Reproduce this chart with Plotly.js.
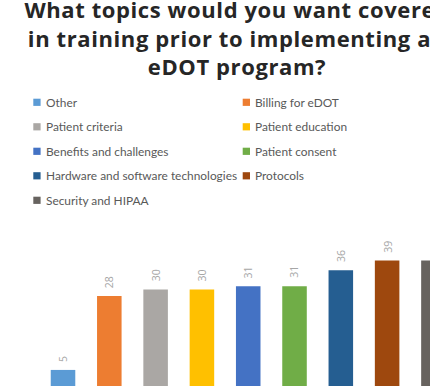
<!DOCTYPE html>
<html>
<head>
<meta charset="utf-8">
<script src="https://cdn.plot.ly/plotly-3.0.1.min.js"></script>
<style>html,body{margin:0;padding:0;background:#fff;}#chart{width:430px;height:386px;}
.gtitle{letter-spacing:0.6px;}</style>
</head>
<body>
<div id="chart"></div>
<script>
var categories = ["Other", "Billing for eDOT", "Patient criteria", "Patient education",
  "Benefits and challenges", "Patient consent", "Hardware and software technologies",
  "Protocols", "Security and HIPAA"];
var counts = [5, 28, 30, 30, 31, 31, 36, 39, 39];
var colors = ["#5b9bd5", "#ed7d31", "#aaa7a4", "#ffc000", "#4472c4", "#70ad47",
  "#255e91", "#9e480e", "#67635f"];
var titleText = "What topics would you want covered<br>in training prior to implementing an<br>eDOT program?";

var W = 430, H = 386;
var M = {l: 40, r: 0, t: 230, b: 0};
var pw = W - M.l - M.r, ph = H - M.t - M.b;
function px(x) { return (x - M.l) / pw; }
function py(y) { return (H - M.b - y) / ph; }

var traces = categories.map(function (c, i) {
  return {
    type: "bar", name: c, x: [i], y: [counts[i]],
    marker: {color: colors[i]}, showlegend: false, hoverinfo: "skip"
  };
});

var annotations = [];
var shapes = [];
counts.forEach(function (v, i) {
  annotations.push({
    x: i, y: v, xref: "x", yref: "y", text: String(v), showarrow: false,
    textangle: -90, xanchor: "center", yanchor: "bottom", yshift: 6,
    font: {family: "Open Sans, sans-serif", size: 10.5, color: "#a6a6a6"}
  });
});
categories.forEach(function (c, i) {
  var col = i % 2, row = Math.floor(i / 2);
  var sx = col === 0 ? 33.3 : 242.7;
  var cy = 102.3 + row * 24.5;
  shapes.push({
    type: "rect", xref: "paper", yref: "paper",
    x0: px(sx), x1: px(sx + 7.3), y0: py(cy - 3.6), y1: py(cy + 3.6),
    fillcolor: colors[i], line: {width: 0}
  });
  annotations.push({
    xref: "paper", yref: "paper", x: px(sx + 10.5), y: py(cy),
    xanchor: "left", yanchor: "middle", showarrow: false, text: c,
    font: {family: "Lato, sans-serif", size: 11.9, color: "#595959"}
  });
});

var layout = {
  width: W, height: H,
  margin: M,
  paper_bgcolor: "#ffffff", plot_bgcolor: "#ffffff",
  barmode: "overlay", bargap: 0.47,
  showlegend: false,
  title: {
    text: titleText, x: 237 / W, xref: "container", xanchor: "center",
    y: 1 - 18 / H, yref: "container", yanchor: "middle",
    font: {family: "Open Sans, sans-serif", size: 22, color: "#262626", weight: "bold"}
  },
  xaxis: {range: [-0.497, 7.926], showgrid: false, zeroline: false, showticklabels: false,
    showline: false, ticks: "", fixedrange: true},
  yaxis: {range: [0, ph / 3.215], showgrid: false, zeroline: false, showticklabels: false,
    showline: false, ticks: "", fixedrange: true},
  annotations: annotations,
  shapes: shapes
};

Plotly.newPlot("chart", traces, layout, {displayModeBar: false, staticPlot: true});
</script>
</body>
</html>
